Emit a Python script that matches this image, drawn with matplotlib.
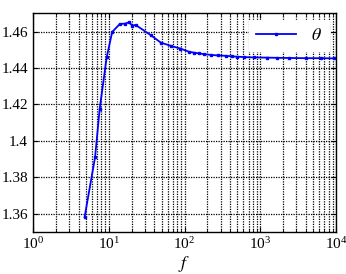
import matplotlib
matplotlib.use("Agg")
import matplotlib.pyplot as plt
from matplotlib.ticker import FixedLocator, FuncFormatter, LogLocator, NullFormatter

plt.rcParams['font.family'] = ['Liberation Serif', 'DejaVu Serif']
plt.rcParams['mathtext.fontset'] = 'stix'

f = [4.8, 6.6, 7.6, 9.4, 11.1, 14, 16.4, 18.5, 20.5, 22.6, 36, 48.5, 65.8, 88,
     115, 135, 156, 181, 224, 274, 352, 424, 498, 614, 827, 1240, 1650, 2420,
     4000, 6300, 9400]
theta = [1.358, 1.391, 1.4177, 1.446, 1.4598, 1.4642, 1.4644, 1.4651, 1.4633,
         1.4637, 1.458, 1.454, 1.4522, 1.4507, 1.4489, 1.4484, 1.448, 1.4476,
         1.4472, 1.4469, 1.4467, 1.4464, 1.4462, 1.446, 1.4458, 1.4457,
         1.4456, 1.4455, 1.4454, 1.4454, 1.4453]
yticks = [1.36, 1.38, 1.40, 1.42, 1.44, 1.46]

fig = plt.figure(figsize=(3.46, 2.74), dpi=100)
ax = fig.add_axes([33/346, 1 - 231.7/274, 303/346, (231.7-12.7)/274])
ax.plot(f, theta, color='#0000ff', lw=1.3, marker='s', ms=1.6, label=r'$\theta$')
ax.set_xscale('log')
ax.set_xlim(1, 1e4)
ax.set_ylim(1.35, 1.4704)
ax.yaxis.set_major_locator(FixedLocator(yticks))
ax.yaxis.set_major_formatter(FuncFormatter(lambda v, p: f"{v:g}"))
ax.xaxis.set_major_locator(LogLocator(base=10, numticks=10))
ax.xaxis.set_minor_locator(LogLocator(base=10, subs=range(2, 10), numticks=10))
ax.xaxis.set_minor_formatter(NullFormatter())
ax.grid(True, which='major', color='black', ls=(0, (1, 1)), lw=0.9)
ax.grid(True, which='minor', axis='x', color='black', ls=(0, (1, 1)), lw=0.9)
ax.tick_params(which='both', direction='in', top=True, right=True, labelsize=11)
ax.tick_params(which='minor', length=2)
for s in ax.spines.values():
    s.set_linewidth(1.0)
ax.set_xlabel(r'$f$', fontsize=13, labelpad=1)
leg = ax.legend(loc='upper right', fontsize=13, frameon=True, fancybox=False,
                edgecolor='white', framealpha=1, handlelength=2.2,
                borderaxespad=0.4)
fig.savefig('out.png', dpi=100)
